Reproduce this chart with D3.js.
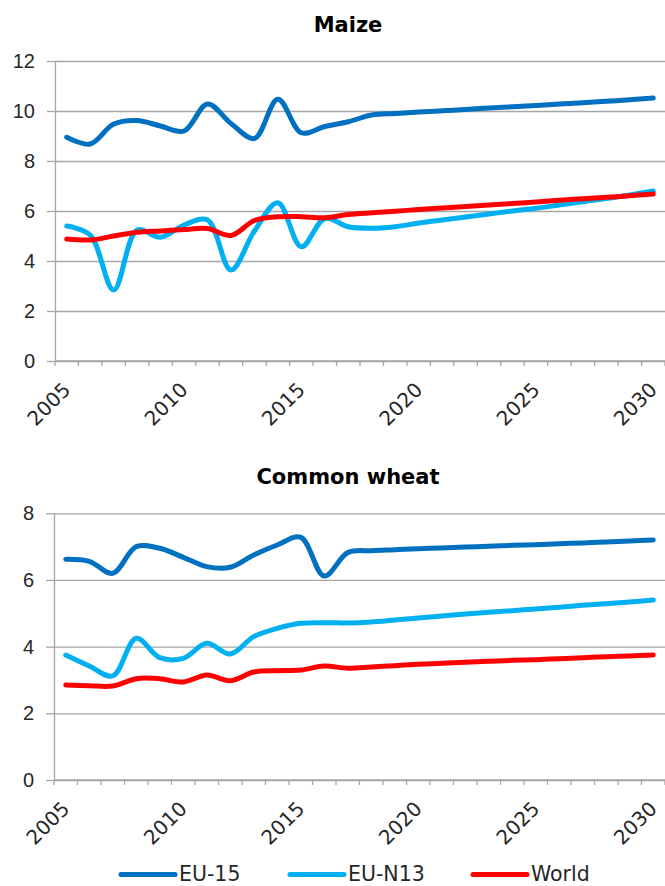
<!DOCTYPE html>
<html>
<head>
<meta charset="utf-8">
<script src="https://cdn.jsdelivr.net/npm/d3@7"></script>
<style>
  body { margin: 0; background: #fff; }
  svg { display: block; font-family: "DejaVu Sans", Verdana, sans-serif; }
  .grid line { stroke: #a6a6a6; stroke-width: 1.3; }
  .grid path { display: none; }
  .axis path, .axis line { stroke: #a6a6a6; stroke-width: 1.3; }
  .axis text, .xlab { fill: #262626; font-size: 20px; }
  .series { fill: none; stroke-width: 5; stroke-linecap: round; stroke-linejoin: round; }
</style>
</head>
<body>
<div id="chart"></div>
<script>
const years = [2005, 2006, 2007, 2008, 2009, 2010, 2011, 2012, 2013, 2014, 2015, 2016, 2017,
  2018, 2019, 2020, 2021, 2022, 2023, 2024, 2025, 2026, 2027, 2028, 2029, 2030];
const xTickLabels = ["2005", "2010", "2015", "2020", "2025", "2030"];
const seriesNames = ["EU-15", "EU-N13", "World"];
const seriesColors = ["#0070c0", "#00b0f0", "#ff0000"];

const maizeTicks = [0, 2, 4, 6, 8, 10, 12];
const maizeEU15 = [8.95, 8.68, 9.48, 9.62, 9.4, 9.2, 10.28, 9.5, 8.9, 10.47, 9.13, 9.38, 9.57,
  9.84, 9.9, 9.96, 10.01, 10.06, 10.12, 10.17, 10.22, 10.28, 10.33, 10.39, 10.45, 10.52];
const maizeEUN13 = [5.4, 5.04, 2.84, 5.24, 4.95, 5.44, 5.64, 3.64, 5.2, 6.33, 4.57, 5.7, 5.37,
  5.31, 5.37, 5.52, 5.64, 5.76, 5.88, 6.0, 6.11, 6.24, 6.37, 6.5, 6.64, 6.8];
const maizeWorld = [4.88, 4.84, 5.0, 5.15, 5.2, 5.26, 5.3, 5.02, 5.62, 5.77, 5.77, 5.73, 5.86,
  5.93, 5.99, 6.06, 6.12, 6.18, 6.24, 6.3, 6.36, 6.43, 6.49, 6.55, 6.61, 6.68];

const wheatTicks = [0, 2, 4, 6, 8];
const wheatEU15 = [6.62, 6.56, 6.2, 7.0, 6.95, 6.68, 6.4, 6.38, 6.75, 7.05, 7.28, 6.12, 6.82,
  6.88, 6.91, 6.94, 6.96, 6.99, 7.01, 7.04, 7.06, 7.09, 7.11, 7.14, 7.17, 7.2];
const wheatEUN13 = [3.75, 3.42, 3.12, 4.25, 3.67, 3.65, 4.1, 3.78, 4.3, 4.55, 4.7, 4.72, 4.71,
  4.74, 4.8, 4.86, 4.92, 4.98, 5.03, 5.08, 5.13, 5.18, 5.24, 5.29, 5.34, 5.4];
const wheatWorld = [2.85, 2.83, 2.82, 3.04, 3.04, 2.94, 3.15, 2.98, 3.24, 3.28, 3.3, 3.42, 3.35,
  3.39, 3.43, 3.47, 3.5, 3.53, 3.56, 3.59, 3.61, 3.64, 3.67, 3.7, 3.72, 3.75];

const width = 665, height = 886;

const svg = d3.select("#chart").append("svg")
  .attr("width", width)
  .attr("height", height);

function drawPanel(opts) {
  const g = svg.append("g");

  const x = d3.scaleBand().domain(years).range([opts.left, opts.right]).paddingInner(0).paddingOuter(0);
  const y = d3.scaleLinear().domain([0, d3.max(opts.ticks)]).range([opts.bottom, opts.top]);
  const cx = d => x(d) + x.bandwidth() / 2;

  // title
  g.append("text")
    .attr("x", 348)
    .attr("y", opts.titleY)
    .attr("text-anchor", "middle")
    .attr("font-weight", "bold")
    .attr("font-size", "21px")
    .attr("fill", "#000")
    .text(opts.title);

  // gridlines
  g.append("g")
    .attr("class", "grid")
    .attr("transform", `translate(${opts.left},0)`)
    .call(d3.axisLeft(y).tickValues(opts.ticks).tickSize(-(opts.right - opts.left)).tickFormat(""));

  // y axis
  g.append("g")
    .attr("class", "axis")
    .attr("transform", `translate(${opts.left},0)`)
    .call(d3.axisLeft(y).tickValues(opts.ticks).tickSize(8).tickSizeOuter(0).tickPadding(12));

  // x axis: ticks between categories
  const xg = g.append("g").attr("class", "axis");
  xg.append("line")
    .attr("x1", opts.left).attr("x2", opts.right)
    .attr("y1", opts.bottom).attr("y2", opts.bottom);
  xg.selectAll(".xtick")
    .data(years.concat([null]))
    .join("line")
    .attr("class", "xtick")
    .attr("x1", d => d === null ? opts.right : x(d))
    .attr("x2", d => d === null ? opts.right : x(d))
    .attr("y1", opts.bottom)
    .attr("y2", opts.bottom + 5);

  g.selectAll(".xlab")
    .data(xTickLabels)
    .join("text")
    .attr("class", "xlab")
    .attr("text-anchor", "end")
    .attr("transform", d => `translate(${cx(+d) + 5},${opts.bottom + 30}) rotate(-45)`)
    .text(d => d);

  const line = d3.line()
    .x((d, i) => cx(years[i]))
    .y(d => y(d))
    .curve(d3.curveCatmullRom);

  g.selectAll(".series")
    .data(opts.series)
    .join("path")
    .attr("class", "series")
    .attr("stroke", (d, i) => seriesColors[i])
    .attr("d", d => line(d));
}

drawPanel({
  title: "Maize", titleY: 31.5,
  left: 55, right: 665, top: 61, bottom: 361,
  ticks: maizeTicks,
  series: [maizeEU15, maizeEUN13, maizeWorld]
});

drawPanel({
  title: "Common wheat", titleY: 484,
  left: 54, right: 665, top: 513.3, bottom: 780,
  ticks: wheatTicks,
  series: [wheatEU15, wheatEUN13, wheatWorld]
});

// legend
const legendX = [121, 290, 473];
const legend = svg.append("g").attr("transform", "translate(0,874.5)");
const items = legend.selectAll("g")
  .data(seriesNames)
  .join("g")
  .attr("transform", (d, i) => `translate(${legendX[i]},0)`);
items.append("line")
  .attr("x1", 0).attr("x2", 54)
  .attr("stroke", (d, i) => seriesColors[i])
  .attr("stroke-width", 5)
  .attr("stroke-linecap", "round");
items.append("text")
  .attr("x", 58)
  .attr("y", 6.5)
  .attr("font-size", "20.5px")
  .attr("fill", "#262626")
  .text(d => d);
</script>
</body>
</html>
